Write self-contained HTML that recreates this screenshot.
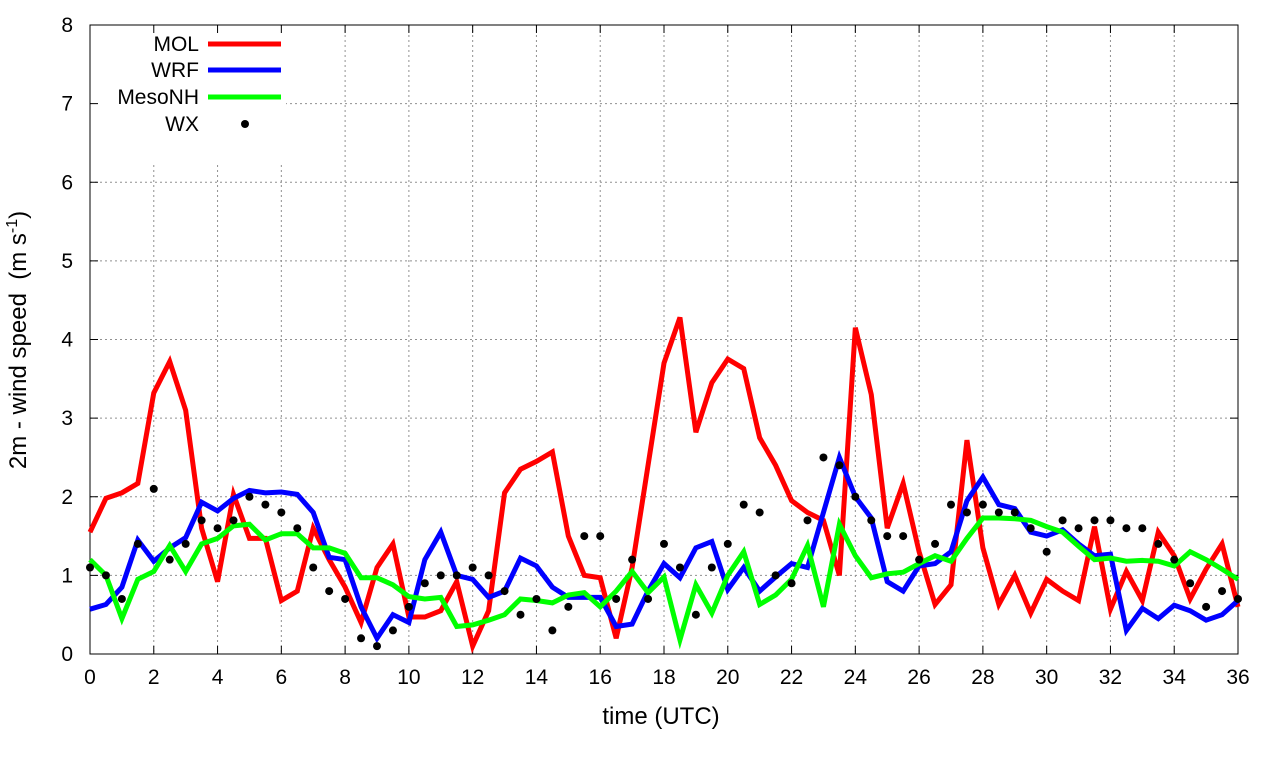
<!DOCTYPE html>
<html><head><meta charset="utf-8"><style>
body{margin:0;background:#fff}
svg text{font-family:"Liberation Sans",sans-serif;fill:#000}
</style></head><body>
<svg id="c" width="1280" height="760"></svg>
<script>
const xTicks=[0,2,4,6,8,10,12,14,16,18,20,22,24,26,28,30,32,34,36];
const yTicks=[0,1,2,3,4,5,6,7,8];
const times=[];for(let i=0;i<=72;i++)times.push(i/2);
const mol=[1.55,1.98,2.05,2.17,3.32,3.72,3.1,1.6,0.92,2.03,1.47,1.47,0.68,0.8,1.6,1.2,0.85,0.4,1.1,1.4,0.47,0.47,0.55,0.92,0.1,0.55,2.05,2.35,2.45,2.57,1.5,1.0,0.97,0.2,1.1,2.4,3.7,4.28,2.82,3.45,3.75,3.63,2.75,2.4,1.95,1.8,1.7,1.0,4.15,3.3,1.6,2.17,1.3,0.63,0.88,2.72,1.35,0.63,1.0,0.52,0.95,0.8,0.68,1.62,0.57,1.05,0.68,1.55,1.25,0.7,1.08,1.4,0.6];
const wrf=[0.57,0.63,0.85,1.45,1.18,1.35,1.48,1.93,1.82,1.98,2.08,2.05,2.06,2.03,1.8,1.23,1.2,0.6,0.2,0.5,0.4,1.2,1.55,1.0,0.95,0.72,0.8,1.22,1.12,0.85,0.72,0.72,0.72,0.35,0.38,0.8,1.15,0.97,1.35,1.43,0.82,1.1,0.8,0.98,1.15,1.1,1.8,2.5,2.0,1.73,0.92,0.8,1.12,1.15,1.3,1.95,2.25,1.9,1.85,1.55,1.5,1.58,1.4,1.25,1.27,0.3,0.58,0.45,0.62,0.55,0.43,0.5,0.68];
const meso=[1.2,1.0,0.45,0.95,1.05,1.38,1.05,1.4,1.47,1.63,1.65,1.45,1.53,1.53,1.35,1.35,1.28,0.97,0.97,0.88,0.73,0.7,0.72,0.35,0.37,0.43,0.5,0.7,0.68,0.65,0.75,0.78,0.6,0.8,1.05,0.78,0.98,0.18,0.88,0.52,1.0,1.3,0.63,0.75,0.95,1.38,0.6,1.65,1.25,0.97,1.02,1.04,1.15,1.25,1.18,1.47,1.73,1.73,1.72,1.7,1.62,1.55,1.37,1.2,1.22,1.18,1.19,1.18,1.12,1.3,1.2,1.08,0.95];
const wx=[1.1,1.0,0.7,1.4,2.1,1.2,1.4,1.7,1.6,1.7,2.0,1.9,1.8,1.6,1.1,0.8,0.7,0.2,0.1,0.3,0.6,0.9,1.0,1.0,1.1,1.0,0.8,0.5,0.7,0.3,0.6,1.5,1.5,0.7,1.2,0.7,1.4,1.1,0.5,1.1,1.4,1.9,1.8,1.0,0.9,1.7,2.5,2.4,2.0,1.7,1.5,1.5,1.2,1.4,1.9,1.8,1.9,1.8,1.8,1.6,1.3,1.7,1.6,1.7,1.7,1.6,1.6,1.4,1.2,0.9,0.6,0.8,0.7];

const L=90,R=1238,T=25,B=654;
const X=v=>L+(R-L)*v/36, Y=v=>B-(B-T)*v/8;
const svg=document.getElementById('c');const NS='http://www.w3.org/2000/svg';
function el(t,a,p){const e=document.createElementNS(NS,t);for(const k in a)e.setAttribute(k,a[k]);(p||svg).appendChild(e);return e;}
const grid=el('g',{});


xTicks.forEach(t=>{if(t>0&&t<36)el('line',{x1:X(t),x2:X(t),y1:T,y2:B,stroke:'#909090','stroke-dasharray':'2,3','stroke-width':1},grid);});
yTicks.forEach(t=>{if(t>0&&t<8)el('line',{x1:L,x2:R,y1:Y(t),y2:Y(t),stroke:'#909090','stroke-dasharray':'2,3','stroke-width':1},grid);});
el('rect',{x:L+1,y:T+1,width:195,height:137,fill:'#fff'});
const ax=el('g',{});


el('rect',{x:L,y:T,width:R-L,height:B-T,fill:'none',stroke:'#000','stroke-width':1},ax);
xTicks.forEach(t=>{
 el('line',{x1:X(t),x2:X(t),y1:B,y2:B-8,stroke:'#000'},ax);
 el('line',{x1:X(t),x2:X(t),y1:T,y2:T+8,stroke:'#000'},ax);
 const tx=el('text',{x:X(t),y:B+30,'text-anchor':'middle','font-size':21},ax);tx.textContent=t;
 
 
});
yTicks.forEach(t=>{
 el('line',{x1:L,x2:L+8,y1:Y(t),y2:Y(t),stroke:'#000'},ax);
 el('line',{x1:R,x2:R-8,y1:Y(t),y2:Y(t),stroke:'#000'},ax);
 const tx=el('text',{x:73,y:Y(t)+7,'text-anchor':'end','font-size':21},ax);tx.textContent=t;
 
 
});
const xt=el('text',{x:661,y:724,'text-anchor':'middle','font-size':24});xt.textContent='time (UTC)';


const yt=el('text',{x:0,y:0,'text-anchor':'middle','font-size':24,transform:'translate(26,340) rotate(-90)'});
yt.setAttribute('xml:space','preserve');
yt.innerHTML='2m - wind speed\u00a0\u00a0(m s<tspan dy="-9" font-size="16">-1</tspan><tspan dy="9">)</tspan>';


function line(vals,color,name){
 const p=el('polyline',{points:vals.map((v,i)=>X(times[i])+','+Y(v)).join(' '),fill:'none',stroke:color,'stroke-width':5,'stroke-linejoin':'miter'});
 
 
}
line(mol,'#ff0000','mol-line');
line(wrf,'#0000ff','wrf-line');
line(meso,'#00ff00','mesonh-line');
const dots=el('g',{});


wx.forEach((v,i)=>{el('circle',{cx:X(times[i]),cy:Y(v),r:4,fill:'#000'},dots);});
const leg=[['MOL','#ff0000',44],['WRF','#0000ff',70],['MesoNH','#00ff00',97]];
leg.forEach(([n,c,y])=>{
 const g=el('g',{});
 
 
 const t=el('text',{x:199,y:y+7,'text-anchor':'end','font-size':21},g);t.textContent=n;
 el('line',{x1:208,x2:281,y1:y,y2:y,stroke:c,'stroke-width':5},g);
});
const g=el('g',{});


const t=el('text',{x:199,y:131,'text-anchor':'end','font-size':21},g);t.textContent='WX';
el('circle',{cx:245,cy:124,r:4,fill:'#000'},g);
</script>
</body></html>
